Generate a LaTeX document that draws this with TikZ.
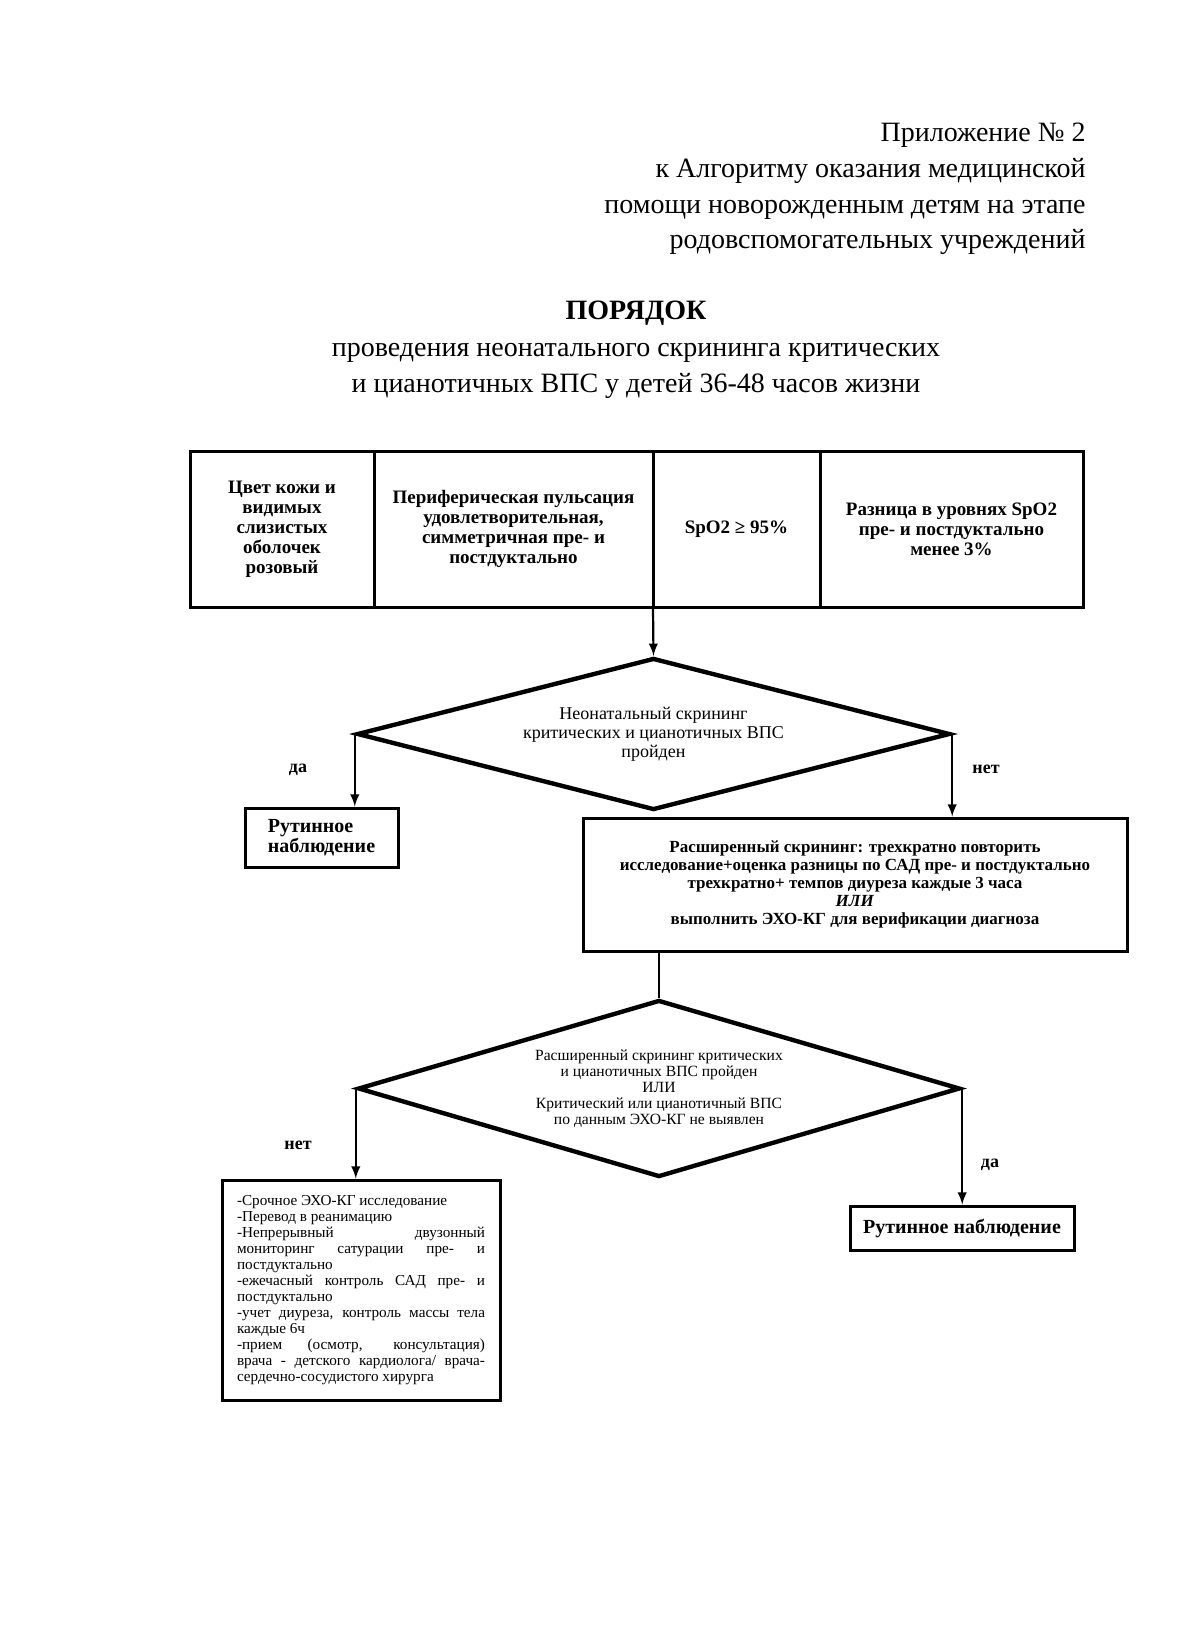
\documentclass[tikz,border=0pt]{standalone}
\usepackage{fontspec}
\setmainfont{Liberation Serif}
\usetikzlibrary{arrows, positioning, shapes}

\begin{document}
\begin{tikzpicture}[x=0.5pt,y=-0.5pt,
    cell/.style={draw, line width=1.5pt, outer sep=0pt, minimum height=78pt, inner sep=2pt, align=center, font=\bfseries\fontsize{9.5}{10}\selectfont},
    dec/.style={draw, diamond, line width=2.2pt, inner sep=0pt, align=center},
    box/.style={draw, line width=1.5pt},
    lbl/.style={font=\bfseries\fontsize{9}{10}\selectfont},
    arr/.style={-latex, line width=1.1pt}]
    \useasboundingbox (0,0) rectangle (1200,1630);

    % header
    \node[anchor=north east, inner sep=0pt, align=right, font=\fontsize{14}{17.8}\selectfont] (head) at (1086,123)
        {Приложение № 2\\к Алгоритму оказания медицинской\\помощи новорожденным детям на этапе\\родовспомогательных учреждений};
    \node[font=\bfseries\fontsize{14}{17}\selectfont] (title) at (636,313) {ПОРЯДОК};
    \node[align=center, font=\fontsize{14}{18}\selectfont, below=2pt of title] (sub)
        {проведения неонатального скрининга критических\\и цианотичных ВПС у детей 36-48 часов жизни};

    % criteria
    \node[cell, minimum width=92pt, anchor=north west] (c1) at (190,451) {Цвет кожи и\\видимых\\слизистых\\оболочек\\розовый};
    \node[cell, minimum width=139.5pt, right=0pt of c1] (c2) {Периферическая пульсация\\удовлетворительная,\\симметричная пре- и\\постдуктально};
    \node[cell, minimum width=83.5pt, right=0pt of c2] (c3) {SpO2 ≥ 95\%};
    \node[cell, minimum width=131.5pt, right=0pt of c3] (c4) {Разница в уровнях SpO2\\пре- и постдуктально\\менее 3\%};

    % first check
    \node[dec, minimum width=296.5pt, minimum height=76pt, shape aspect=3.9, font=\fontsize{9}{9.5}\selectfont] (d1) at (653.5,734)
        {Неонатальный скрининг\\критических и цианотичных ВПС\\пройден};
    \node[box, minimum width=76.5pt, minimum height=29.5pt, align=left, font=\bfseries\fontsize{10}{10}\selectfont] (r1) at (321.5,837.5) {Рутинное\\наблюдение};
    \node[box, minimum width=272pt, minimum height=66.5pt, align=center, font=\bfseries\fontsize{8.5}{9}\selectfont] (b1) at (855,884.5)
        {Расширенный скрининг: трехкратно повторить\\исследование+оценка разницы по САД пре- и постдуктально\\трехкратно+ темпов диуреза каждые 3 часа\\\textit{ИЛИ}\\выполнить ЭХО-КГ для верификации диагноза};
    \node[lbl] (yes1) at (298,770) {да};
    \node[lbl] (no1) at (986,769) {нет};

    % second check
    \node[dec, minimum width=301pt, minimum height=88.5pt, shape aspect=3.4, font=\fontsize{7.8}{8}\selectfont] (d2) at (659,1088.5)
        {Расширенный скрининг критических\\и цианотичных ВПС пройден\\ИЛИ\\Критический или цианотичный ВПС\\по данным ЭХО-КГ не выявлен};
    \node[box, text width=124pt, inner xsep=7.5pt, minimum height=110pt, align=justify, font=\fontsize{7.6}{8}\selectfont] (l2) at (361,1290)
        {-Срочное ЭХО-КГ исследование\\
         -Перевод в реанимацию\\
         -Непрерывный двузонный\linebreak мониторинг сатурации пре- и\linebreak постдуктально\\
         -ежечасный контроль САД пре- и\linebreak постдуктально\\
         -учет диуреза, контроль массы тела\linebreak каждые 6ч\\
         -прием (осмотр, консультация)\linebreak врача - детского кардиолога/ врача-\linebreak сердечно-сосудистого хирурга};
    \node[box, minimum width=112pt, minimum height=22pt, font=\bfseries\fontsize{10}{10}\selectfont] (r2) at (962,1228) {Рутинное наблюдение};
    \node[lbl] (no2) at (298,1145) {нет};
    \node[lbl] (yes2) at (990,1165) {да};

    \draw[arr] (c2.south east) -- (d1.north);
    \draw[arr] (d1.west) -- (d1.west |- r1.north);
    \draw[arr] (d1.east) -- (d1.east |- b1.north);
    \draw[line width=1.3pt] (d2.north |- b1.south) -- (d2.north);
    \draw[arr] (d2.west) -- (d2.west |- l2.north);
    \draw[arr] (d2.east) -- (d2.east |- r2.north);
\end{tikzpicture}
\end{document}
